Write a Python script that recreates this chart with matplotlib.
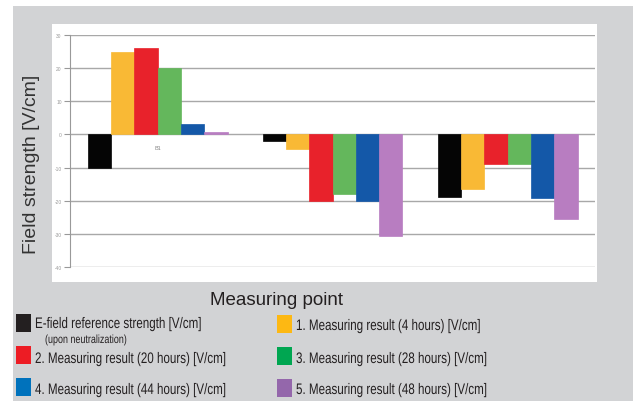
import matplotlib
matplotlib.use("Agg")
import matplotlib.pyplot as plt
from matplotlib.patches import Rectangle
from matplotlib.patheffects import AbstractPathEffect
from matplotlib.transforms import Affine2D
import numpy as np

# data
points = ["B1", "B2", "B3"]
reference = [-10, -2, -19]
result_4h = [25, -4.3, -16.4]
result_20h = [26, -20, -9]
result_28h = [20, -18, -9]
result_44h = [3, -20, -19.3]
result_48h = [0.8, -30.5, -25.5]
yticks = [30, 20, 10, 0, -10, -20, -30, -40]

series = [reference, result_4h, result_20h, result_28h, result_44h, result_48h]
bar_colors = ["#050505", "#f9b935", "#e8222b", "#64b75c", "#1458a8", "#b87dc1"]
legend_colors = ["#231f20", "#fdb813", "#ed1c24", "#00a651", "#0072bc", "#9467ab"]
legend_labels = [
    "E-field reference strength [V/cm]",
    "1. Measuring result (4 hours) [V/cm]",
    "2. Measuring result (20 hours) [V/cm]",
    "3. Measuring result (28 hours) [V/cm]",
    "4. Measuring result (44 hours) [V/cm]",
    "5. Measuring result (48 hours) [V/cm]",
]

plt.rcParams['font.family'] = ["Liberation Sans", "DejaVu Sans"]

SX = 0.76  # legend font in the original is a condensed one


class Narrow(AbstractPathEffect):
    # squeeze glyphs sideways around the text start
    def draw_path(self, renderer, gc, tpath, affine, rgbFace=None):
        renderer.draw_path(gc, tpath, Affine2D().scale(SX, 1) + affine, rgbFace)


W, H = 636, 402
fig = plt.figure(figsize=(W / 100, H / 100), dpi=100)


def fx(x):
    return x / W


def fy(y):
    return 1 - y / H


# grey frame and white plot panel
fig.patches.append(Rectangle((fx(13), fy(402)), fx(620), 395 / H, transform=fig.transFigure,
                             facecolor="#d2d3d5", edgecolor="none", zorder=-2))
fig.patches.append(Rectangle((fx(52), fy(283)), fx(545), 258 / H, transform=fig.transFigure,
                             facecolor="white", edgecolor="none", zorder=-1))

ax = fig.add_axes([fx(70), fy(268), fx(525), 232 / H])
ax.set_facecolor("none")
x = np.arange(len(points))
bw = 0.8 / len(series)
for i, (vals, c) in enumerate(zip(series, bar_colors)):
    ax.bar(x - 0.4 + bw * (i + 0.5), vals, width=bw, color=c, edgecolor=c, linewidth=0.5, zorder=3)

for xi, name in zip(x, points):
    ax.text(xi, -3.8, name, ha="center", va="center", fontsize=4, color="#888888", zorder=1)

ax.set_xlim(-0.5, len(points) - 0.5)
ax.set_ylim(-40, 30)
ax.set_yticks(yticks)
ax.set_yticklabels([str(t) for t in yticks])
ax.tick_params(axis="y", labelsize=3.5, labelcolor="#999999", color="#999999", length=4, width=0.8, pad=2)
ax.set_xticks([])
ax.yaxis.grid(True, color="#a8a8a8", linewidth=1.0)
ax.set_axisbelow(True)
for s in ["top", "right", "bottom"]:
    ax.spines[s].set_visible(False)
ax.spines["left"].set_color("#999999")
ax.spines["left"].set_linewidth(0.8)

fig.text(fx(32), fy(164), "Field strength [V/cm]", rotation=90, ha="center", va="center",
         fontsize=14, color="#333333")
fig.text(fx(276), fy(301), "Measuring point", ha="center", va="center",
         fontsize=13.5, color="#231f20")

# legend drawn by hand, two columns
rows = [(16, 315, 329), (277, 316, 331), (16, 347, 364), (277, 348, 364), (16, 379, 395), (277, 380, 395)]
for label, col, (lx, ty, base) in zip(legend_labels, legend_colors, rows):
    fig.patches.append(Rectangle((fx(lx), fy(ty + 18)), fx(15), 18 / H, transform=fig.transFigure,
                                 facecolor=col, edgecolor="none"))
    fig.text(fx(lx + 19), fy(base), label, ha="left", va="baseline", fontsize=11,
             color="#231f20", path_effects=[Narrow()])
fig.text(fx(45), fy(344), "(upon neutralization)", ha="left", va="baseline", fontsize=8.5,
         color="#231f20", path_effects=[Narrow()])

fig.savefig("out.png", dpi=100)
